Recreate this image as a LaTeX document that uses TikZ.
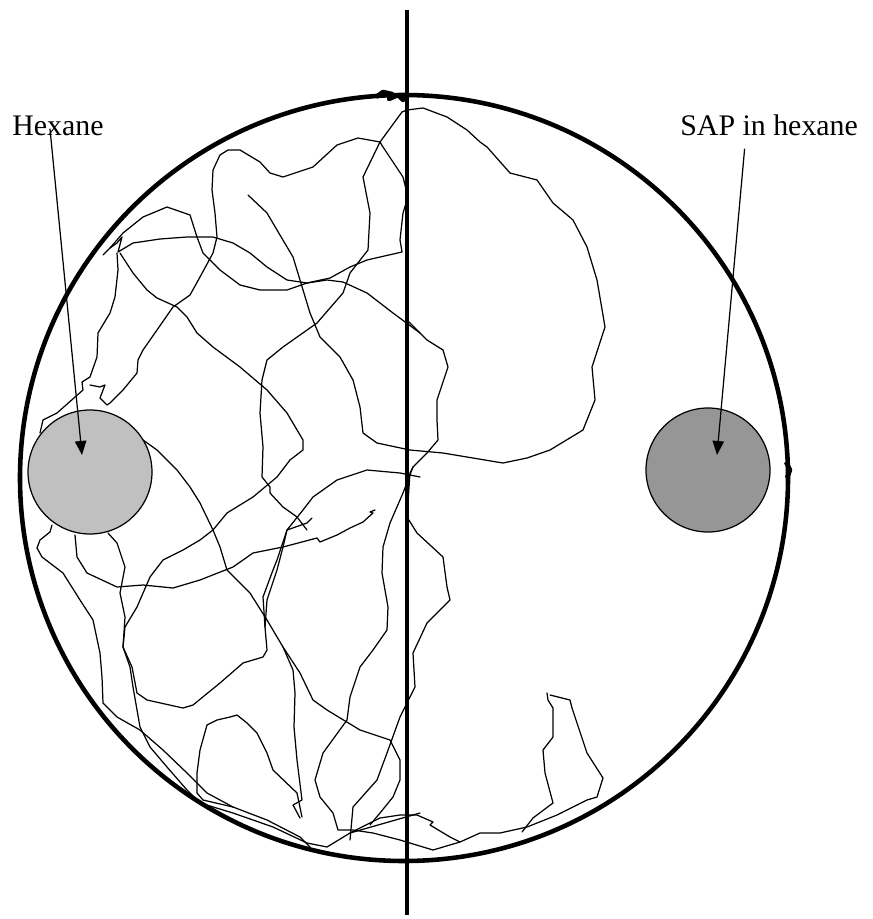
\documentclass[tikz,border=0pt]{standalone}
\usepackage{fontspec}
\setmainfont{Liberation Serif}
\usetikzlibrary{arrows.meta}
\definecolor{paledish}{RGB}{192,192,192}
\definecolor{darkdish}{RGB}{150,150,150}

\begin{document}
\begin{tikzpicture}[x={(0.02cm,0)},y={(0,-0.02cm)},
    track/.style={line width=0.7pt,line join=round,line cap=round},
    wall/.style={line width=2.6pt,line join=round},
    dish/.style={draw,line width=0.7pt},
    lbl/.style={font=\fontsize{17}{20}\selectfont,inner sep=0pt,anchor=base west},
    pointer/.style={line width=0.7pt,-{Triangle[length=8pt,width=6.5pt]}}]
  \useasboundingbox (0,0) rectangle (872,919);
  \fill[white] (0,0) rectangle (872,919);
  \draw[wall] (404,478) ellipse [x radius=384,y radius=383];
  \draw[wall] plot coordinates {(376,97) (383,92) (392,94) (389,99) (398,95) (403,100) (409,93)};
  \draw[wall] plot coordinates {(786,462) (790,470) (787,478)};
  \draw[line width=2.4pt] (407,10) -- (407,915);
  \fill[dish,fill=paledish] (90,472) circle [radius=62];
  \fill[dish,fill=darkdish] (708,470) circle [radius=62];
  \draw[track] plot coordinates {(103,255) (110,248) (117,243) (122,237) (118,252) (133,243) (160,239) (187,237) (213,237) (233,243) (250,253) (267,267) (287,280) (307,283) (327,280) (343,282) (367,293) (393,313) (420,333)};
  \draw[track] plot coordinates {(117,253) (118,270) (115,297) (110,313) (98,333) (97,357) (90,377) (82,382) (83,390) (57,413) (43,420) (40,433)};
  \draw[track] plot coordinates {(120,253) (133,273) (147,290) (157,298) (177,307) (187,317) (197,333) (213,347) (240,367) (267,390) (287,413) (303,440) (303,450) (290,460) (277,477) (253,497) (227,513) (213,530) (200,540) (183,550) (163,560) (150,577) (137,607) (125,627) (123,647) (132,667) (137,693) (147,700) (183,708) (193,705) (220,683) (243,663) (263,657) (267,650) (265,627) (267,600) (277,570) (283,547) (287,530) (307,523) (312,518)};
  \draw[track] plot coordinates {(110,248) (123,233) (143,217) (167,207) (190,215) (197,237) (203,253) (220,270) (240,285) (260,290) (287,290) (307,283) (330,278) (350,267) (367,260) (402,252) (400,240) (403,213) (408,197) (403,177) (383,147) (380,142) (402,112)};
  \draw[track] plot coordinates {(380,142) (358,138) (337,145) (313,167) (283,177) (270,173) (260,162) (240,150) (228,150) (220,155) (213,170) (212,190) (215,213) (217,237) (213,253) (200,277) (190,295) (173,307) (157,330) (143,350) (138,360) (137,373) (123,390) (110,403) (107,405) (100,398) (105,385) (100,387) (90,385)};
  \draw[track] plot coordinates {(248,195) (267,213) (277,230) (293,257) (300,280) (310,313) (320,337) (340,357) (353,380) (360,407) (363,433) (377,443) (410,450) (443,453) (473,458) (503,463) (527,458) (550,450) (583,430) (595,400) (592,367) (605,327) (597,280) (587,247) (573,220) (553,203) (537,180) (510,173) (487,147) (480,142) (467,130) (447,117) (423,108) (407,110) (402,112)};
  \draw[track] plot coordinates {(380,142) (363,177) (370,213) (368,250) (350,273) (343,293) (317,323) (283,347) (267,360) (262,380) (260,413) (263,447) (262,477) (270,487) (270,493) (283,507) (297,517) (307,530)};
  \draw[track] plot coordinates {(143,440) (157,450) (177,470) (190,487) (200,503) (213,530) (220,547) (227,570) (250,593) (267,620) (283,647) (293,670) (295,693) (294,727) (297,760) (302,800) (293,805) (300,818)};
  \draw[track] plot coordinates {(283,647) (300,673) (313,700) (327,710) (360,730) (390,740) (400,760) (400,780) (393,797) (380,813) (370,825)};
  \draw[track] plot coordinates {(420,477) (400,473) (367,470) (337,480) (313,497) (303,510) (287,530) (277,560) (273,570) (263,597) (265,627)};
  \draw[track] plot coordinates {(108,533) (117,543) (125,567) (120,593) (125,617) (123,647) (130,667) (133,687) (140,727) (150,747) (167,767) (187,790) (200,803) (233,813) (273,827) (307,843) (327,847) (350,833) (420,813)};
  \draw[track] plot coordinates {(75,535) (77,557) (87,573) (117,587) (143,585) (173,588) (200,580) (233,567) (253,553) (283,547) (317,538) (320,542) (337,535) (350,528) (363,522) (373,513) (370,512) (375,510)};
  \draw[track] plot coordinates {(52,525) (50,532) (40,540) (37,548) (42,557) (63,573) (80,600) (93,620) (100,653) (102,677) (103,703) (117,717) (140,730) (163,750) (187,773) (207,793) (233,807) (267,820) (300,837) (310,847)};
  \draw[track] plot coordinates {(407,320) (427,340) (443,350) (448,367) (437,400) (437,420) (438,440) (427,453) (413,467) (403,493) (390,523) (383,547) (382,573) (388,607) (387,630) (373,650) (360,667) (350,697) (347,720) (323,753) (315,780) (320,797) (333,813) (338,830) (353,830) (373,833) (400,840) (433,850) (460,842)};
  \draw[track] plot coordinates {(413,467) (410,473) (407,517) (417,533) (443,557) (447,587) (450,600) (443,607) (427,623) (413,653) (415,687) (407,703) (400,717) (387,753) (377,780) (353,807) (350,840)};
  \draw[track] plot coordinates {(547,693) (548,700) (553,708) (553,737) (543,750) (545,773) (553,803) (533,818) (522,832)};
  \draw[track] plot coordinates {(550,695) (570,700) (572,708) (587,753) (603,778) (597,797) (587,800) (557,815) (527,827) (500,833) (480,833) (460,842) (450,837) (430,825) (433,822) (417,815) (400,815) (380,818) (350,833)};
  \draw[track] plot coordinates {(233,807) (203,800) (197,793) (197,773) (200,750) (207,725) (217,720) (230,717) (237,715) (247,723) (257,733) (267,753) (273,770) (297,793) (302,817)};
  \node[lbl] (hexlbl) at (12,135) {Hexane};
  \node[lbl] (saplbl) at (680,135) {SAP in hexane};
  \coordinate (hextip) at (82,455);
  \coordinate (saptip) at (717,455);
  \draw[pointer] ([xshift=-0.16cm,yshift=0.14cm]hexlbl.south) -- (hextip);
  \draw[pointer] ([xshift=-0.49cm,yshift=-0.26cm]saplbl.south) -- (saptip);
\end{tikzpicture}
\end{document}
